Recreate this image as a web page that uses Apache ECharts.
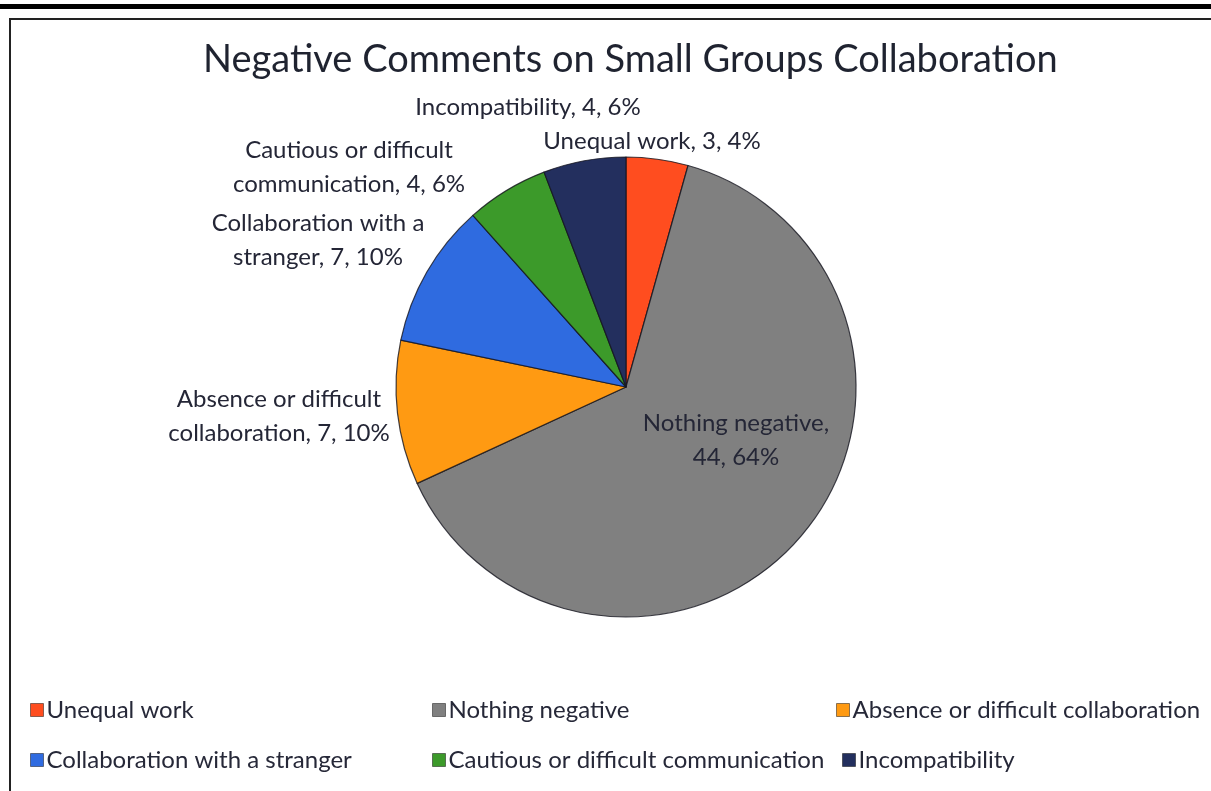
<!DOCTYPE html>
<html>
<head>
<meta charset="utf-8">
<script src="https://cdn.jsdelivr.net/npm/echarts@6/dist/echarts.min.js"></script>
<style>
  html, body { margin: 0; padding: 0; background: #fff; overflow: hidden; }
  #chart { width: 1211px; height: 791px; }
</style>
</head>
<body>
<div id="chart"></div>
<script>
// Response categories, in clockwise order starting at 12 o'clock
const categories = [
  'Unequal work',
  'Nothing negative',
  'Absence or difficult collaboration',
  'Collaboration with a stranger',
  'Cautious or difficult communication',
  'Incompatibility'
];
// Number of comments per category
const counts = [3, 44, 7, 7, 4, 4];
// Slice colours
const colors = ['#FF4D1F', '#808080', '#FF9A12', '#2F6BE0', '#3C9A2A', '#232F5E'];
// Slice label text (line-broken like the chart's call-outs)
const labelNames = [
  'Unequal work',
  'Nothing negative,\n',
  'Absence or difficult\ncollaboration',
  'Collaboration with a\nstranger',
  'Cautious or difficult\ncommunication',
  'Incompatibility'
];

const FONT = 'Lato, "Open Sans", sans-serif';
const total = counts.reduce((a, b) => a + b, 0);

// Label anchor points (centre of each label block)
const labelSpots = [
  { x: 652, y: 141 },
  { x: 736, y: 440 },
  { x: 279, y: 416 },
  { x: 318, y: 240 },
  { x: 349, y: 167 },
  { x: 528, y: 107 }
];

// Legend item placements: [left, top]
const legendSpots = [
  [30, 698], [432, 698], [836, 698],
  [30, 748], [432, 748], [842, 748]
];

const chart = echarts.init(document.getElementById('chart'));

const data = categories.map((name, i) => ({
  name,
  value: counts[i],
  itemStyle: { color: colors[i] }
}));

const legends = categories.map((name, i) => ({
  data: [name],
  left: legendSpots[i][0],
  top: legendSpots[i][1],
  orient: 'horizontal',
  icon: 'rect',
  itemWidth: 13,
  itemHeight: 13,
  itemGap: 0,
  padding: 0,
  selectedMode: false,
  itemStyle: { borderColor: 'rgba(0,0,0,0.45)', borderWidth: 1 },
  textStyle: { fontFamily: FONT, fontSize: 24, color: '#262838', padding: [0, 0, 0, -2] }
}));

chart.setOption({
  backgroundColor: '#ffffff',
  animation: false,
  title: {
    text: 'Negative Comments on Small Groups Collaboration',
    left: 198,
    top: 36,
    textStyle: { fontFamily: FONT, fontSize: 38, fontWeight: 'normal', color: '#1f2330' }
  },
  legend: legends,
  graphic: [
    { type: 'rect', shape: { x: 0, y: 4, width: 1211, height: 5 }, style: { fill: '#000' } },
    { type: 'rect', shape: { x: 9, y: 18, width: 1202, height: 2 }, style: { fill: '#222' } },
    { type: 'rect', shape: { x: 9, y: 18, width: 2, height: 773 }, style: { fill: '#222' } }
  ],
  series: [{
    type: 'pie',
    center: [626, 387],
    radius: [0, 230],
    startAngle: 90,
    clockwise: true,
    avoidLabelOverlap: false,
    data,
    itemStyle: { borderColor: 'rgba(20,20,30,0.8)', borderWidth: 1.2 },
    emphasis: { disabled: true },
    labelLine: { show: false },
    label: {
      show: true,
      position: 'outside',
      fontFamily: FONT,
      fontSize: 24,
      lineHeight: 34,
      color: '#242636',
      align: 'center',
      formatter: p => {
        const pct = Math.round(p.value / total * 100);
        const name = labelNames[p.dataIndex];
        const sep = name.endsWith('\n') ? '' : ', ';
        return name + sep + p.value + ', ' + pct + '%';
      }
    },
    labelLayout: p => ({
      x: labelSpots[p.dataIndex].x,
      y: labelSpots[p.dataIndex].y,
      align: 'center',
      verticalAlign: 'middle'
    })
  }]
});
</script>
</body>
</html>
